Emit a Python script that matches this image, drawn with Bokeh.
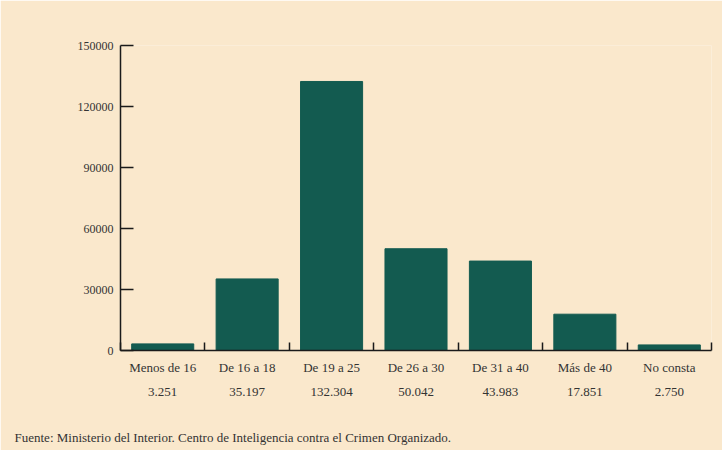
from bokeh.plotting import figure
from bokeh.models import Range1d, FixedTicker, LinearAxis, Title, BasicTickFormatter
from bokeh.embed import file_html
from bokeh.resources import INLINE

categories = ["Menos de 16", "De 16 a 18", "De 19 a 25", "De 26 a 30", "De 31 a 40", "Más de 40", "No consta"]
counts = [3251, 35197, 132304, 50042, 43983, 17851, 2750]
count_labels = ["3.251", "35.197", "132.304", "50.042", "43.983", "17.851", "2.750"]
y_ticks = [0, 30000, 60000, 90000, 120000, 150000]
source_note = "Fuente: Ministerio del Interior. Centro de Inteligencia contra el Crimen Organizado."

BG = "#FAE8CC"
BAR = "#135B50"
FONT = "Liberation Serif"
TXT = "#333333"

centers = [i + 0.5 for i in range(len(categories))]
bounds = list(range(len(categories) + 1))

p = figure(frame_width=591, frame_height=305, x_range=Range1d(0, len(categories)),
           y_range=Range1d(0, y_ticks[-1]), output_backend="svg",
           toolbar_location=None, background_fill_color=BG, border_fill_color=BG,
           min_border_left=120, min_border_top=45, min_border_right=11, min_border_bottom=2)
p.outline_line_color = None
p.grid.visible = False

p.vbar(x=centers, top=counts, width=0.735, color=BAR)

xa = p.xaxis[0]
xa.ticker = FixedTicker(ticks=centers, minor_ticks=bounds)
xa.major_label_overrides = {c: lab for c, lab in zip(centers, categories)}
xa.major_tick_line_color = None
xa.minor_tick_in = 8
xa.minor_tick_out = 0
xa.minor_tick_line_width = 1.5
xa.minor_tick_line_color = "#1a1a1a"
xa.axis_line_width = 1.5
xa.axis_line_color = "#1a1a1a"
xa.major_label_standoff = 3
xa.major_label_text_font = FONT
xa.major_label_text_font_size = "13px"
xa.major_label_text_color = TXT

xa2 = LinearAxis(ticker=FixedTicker(ticks=centers, minor_ticks=[]))
xa2.major_label_overrides = {c: lab for c, lab in zip(centers, count_labels)}
xa2.axis_line_color = None
xa2.major_tick_line_color = None
xa2.minor_tick_line_color = None
xa2.major_label_standoff = 4
xa2.major_label_text_font = FONT
xa2.major_label_text_font_size = "13px"
xa2.major_label_text_color = TXT
p.add_layout(xa2, "below")

ya = p.yaxis[0]
ya.ticker = FixedTicker(ticks=y_ticks, minor_ticks=[])
ya.formatter = BasicTickFormatter(use_scientific=False)
ya.major_tick_in = 13
ya.major_tick_out = 0
ya.major_tick_line_width = 1.5
ya.major_tick_line_color = "#1a1a1a"
ya.axis_line_width = 1.5
ya.axis_line_color = "#1a1a1a"
ya.major_label_standoff = 7
ya.major_label_text_font = FONT
ya.major_label_text_font_size = "12px"
ya.major_label_text_color = TXT

foot = Title(text=source_note, align="left", text_font=FONT, text_font_size="13px",
             text_font_style="normal", text_color=TXT, offset=-106, standoff=58)
p.add_layout(foot, "below")

open("out.html", "w").write(file_html(p, INLINE))
